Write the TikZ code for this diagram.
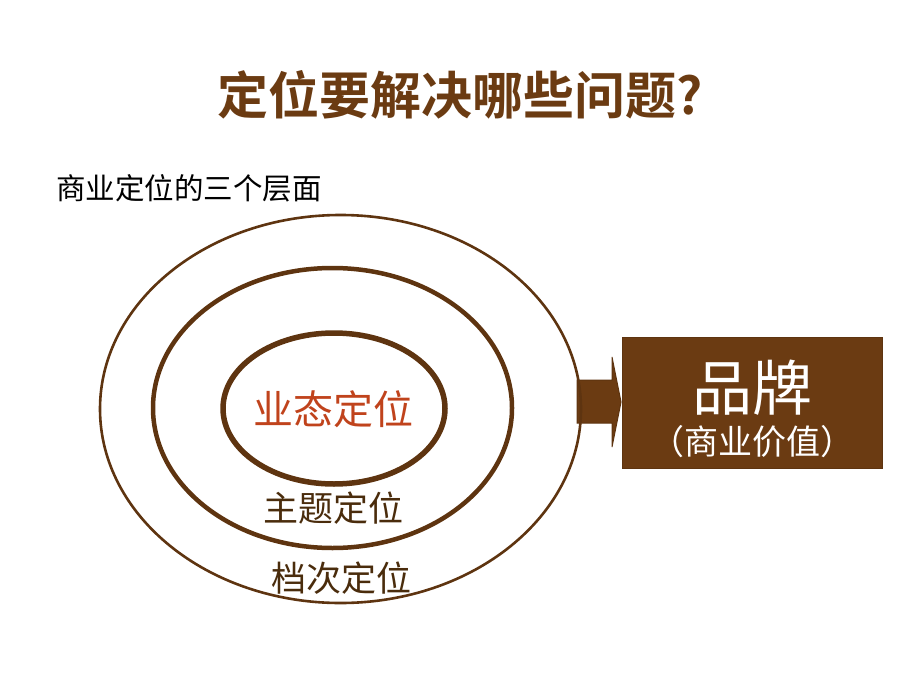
\documentclass[tikz,border=0pt]{standalone}
\usepackage{fontspec}
\setmainfont{Noto Sans CJK SC}
\newfontfamily\cjkb{Noto Sans CJK SC Bold}
\definecolor{brn}{HTML}{6B3B12}
\definecolor{ring}{HTML}{5E3410}
\definecolor{redtxt}{HTML}{C0431C}
\definecolor{dtxt}{HTML}{4A2C0C}
\begin{document}
\begin{tikzpicture}[x=1pt,y=-1pt,
  ringline/.style={draw=ring},
  lbl/.style={inner sep=0pt, anchor=center}]
\useasboundingbox (0,0) rectangle (920,690);
% arrow
\draw[fill=brn, draw=ring, line width=1pt]
  (577,380) -- (612,380) -- (612,357) -- (621,402) -- (612,447) -- (612,423) -- (577,423) -- cycle;
% rings
\draw[ringline, line width=2.6pt] (340.5,409) ellipse [x radius=240.5, y radius=194];
\draw[ringline, line width=4.5pt] (332.5,408) ellipse [x radius=179.5, y radius=140];
\draw[ringline, line width=5.5pt] (334,408.5) ellipse [x radius=111, y radius=75.5];
% title
\node[lbl, text=brn] (title) at (460,95) {\fontsize{51}{55}\selectfont\cjkb 定位要解决哪些问题?};
\node[lbl, anchor=west] (sub) at (56,188) {\fontsize{29.5}{32}\selectfont 商业定位的三个层面};
\node[lbl, text=redtxt] (yt) at (333,409) {\fontsize{40}{44}\selectfont 业态定位};
\node[lbl, text=dtxt] (zt) at (333,508) {\fontsize{35}{38}\selectfont 主题定位};
\node[lbl, text=dtxt] (dc) at (341,578) {\fontsize{35}{38}\selectfont 档次定位};
% box
\node[draw=ring, fill=brn, minimum width=260pt, minimum height=131pt, inner sep=0pt] (box) at (752,402.5) {};
\node[lbl, text=white] (pp) at (752,388) {\fontsize{60}{64}\selectfont 品牌};
\node[lbl, text=white] (sv) at (752,442) {\fontsize{34}{38}\selectfont （商业价值）};
\end{tikzpicture}
\end{document}
